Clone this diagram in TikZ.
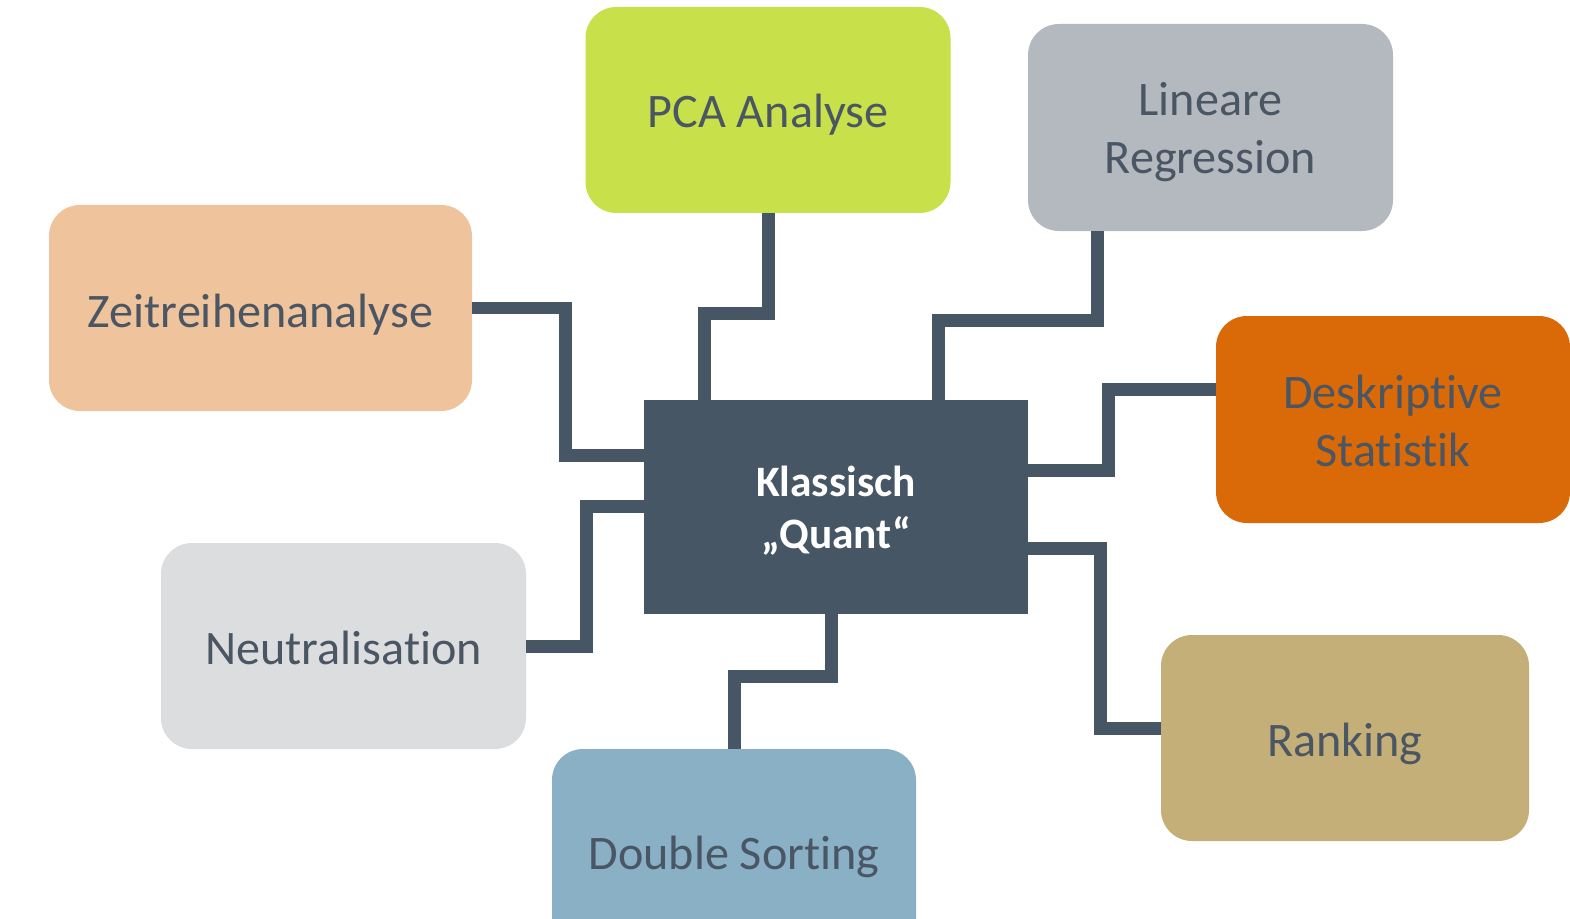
\documentclass[tikz,border=0pt]{standalone}
\usepackage{fontspec}
\setmainfont[Ligatures=NoCommon]{Carlito}
\usetikzlibrary{calc}
\definecolor{cLime}{HTML}{C8E04A}
\definecolor{cGrayB}{HTML}{B4B8BF}
\definecolor{cPeach}{HTML}{EFC39B}
\definecolor{cOrange}{HTML}{DA6A08}
\definecolor{cSlate}{HTML}{475665}
\definecolor{cLight}{HTML}{DCDDDF}
\definecolor{cTan}{HTML}{C4AF78}
\definecolor{cBlue}{HTML}{89B0C5}
\definecolor{cText}{HTML}{4A5663}
\tikzset{
  bx/.style n args={2}{minimum width=#1*0.02cm, minimum height=#2*0.02cm},
  topic/.style={rounded corners=0.62cm, inner sep=0pt},
  ttext/.style={inner sep=0pt, align=center, text=cText,
    font=\fontsize{27.4}{33}\selectfont, yshift=-0.1cm},
  hub/.style={fill=cSlate, inner sep=0pt},
  htext/.style={inner sep=0pt, align=center, text=white,
    font=\fontsize{24.7}{29.6}\selectfont\bfseries, yshift=-0.08cm},
  conn/.style={draw=cSlate, line width=0.26cm, line join=miter}
}
\begin{document}
\begin{tikzpicture}[x=0.02cm, y=-0.02cm]
\clip (0,0) rectangle (1570,919);
\fill[white] (0,0) rectangle (1570,919);
% hub
\node[hub, bx={384}{214}, label={[htext]center:Klassisch\\„Quant“}] (q) at (836,507) {};
% topics
\node[topic, fill=cLime,   bx={365}{206}, label={[ttext]center:PCA Analyse}] (p) at (768,110) {};
\node[topic, fill=cGrayB,  bx={365}{207}, label={[ttext]center:Lineare\\Regression}] (l) at (1210.5,127.5) {};
\node[topic, fill=cPeach,  bx={423}{206}, label={[ttext, yshift=-0.04cm]center:Zeitreihenanalyse}] (z) at (260.5,308) {};
\node[topic, fill=cOrange, bx={354}{207}, label={[ttext, yshift=0.08cm]center:Deskriptive\\Statistik}] (d) at (1393,419.5) {};
\node[topic, fill=cLight,  bx={365}{206}, label={[ttext, yshift=0.06cm]center:Neutralisation}] (n) at (343.5,646) {};
\node[topic, fill=cTan,    bx={368}{206}, label={[ttext, yshift=-0.02cm]center:Ranking}] (r) at (1345,738) {};
\node[topic, fill=cBlue,   bx={364}{206}, label={[ttext]center:Double Sorting}] (ds) at (734,852) {};
% connectors
\draw[conn] (z.east) -| ($(q.west)+(-78,-52)$) -- ($(q.west)+(0,-52)$);
\draw[conn] (p.south) -- ++(0,100) -| ($(q.north)+(-132,0)$);
\draw[conn] ($(l.south west)+(70,0)$) -- ++(0,89) -| ($(q.north)+(102,0)$);
\draw[conn] ($(d.west)+(0,-30)$) -- ++(-107,0) |- ($(q.east)+(0,-37)$);
\draw[conn] (n.east) -| ($(q.west)+(-57,-1)$) -- ($(q.west)+(0,-1)$);
\draw[conn] (ds.north) -- ++(0,-72) -| ($(q.south)+(-5,0)$);
\draw[conn] ($(r.west)+(0,-10)$) -- ++(-60,0) |- ($(q.east)+(0,41)$);
\end{tikzpicture}
\end{document}
